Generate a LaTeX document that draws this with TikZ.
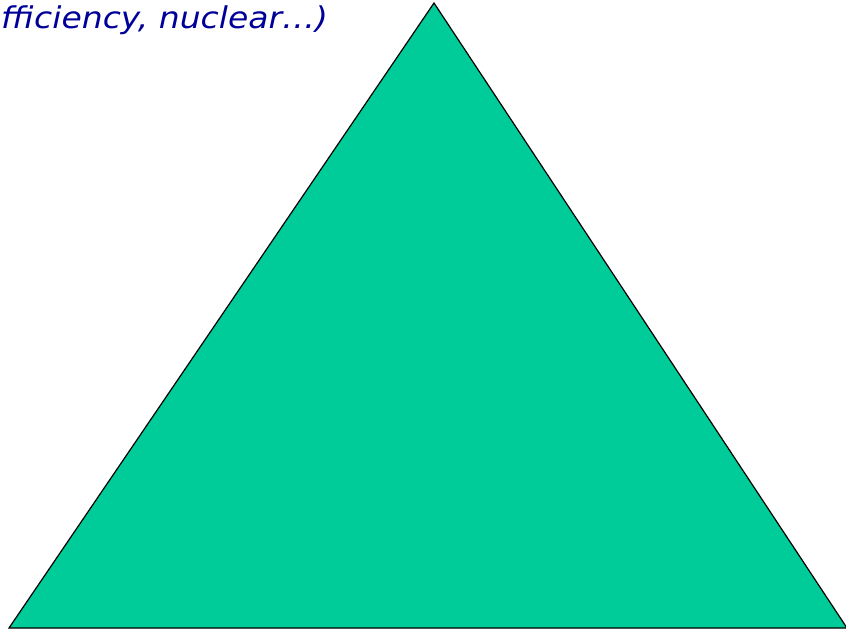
\documentclass[tikz,border=0pt]{standalone}
\usepackage{fontspec}
\setmainfont{DejaVu Sans}
\definecolor{tri}{RGB}{0,204,153}
\definecolor{txt}{RGB}{0,0,153}
\tikzset{lbl/.style={text=txt,font=\fontsize{30}{34}\selectfont\itshape,inner sep=0pt,anchor=base west,xscale=1.1}}
\begin{document}
\begin{tikzpicture}[x=1pt,y=-1pt]
\useasboundingbox (0,0) rectangle (846,630);
\clip (0,0) rectangle (846,630);
\coordinate (top) at (434,3);
\coordinate (bl) at (9,628);
\coordinate (br) at (847,628);
\filldraw[fill=tri,draw=black,line width=1.2pt,line join=miter] (top) -- (br) -- (bl) -- cycle;
\node[lbl] (t) at (1,28) {fficiency, nuclear…)};
\end{tikzpicture}
\end{document}
